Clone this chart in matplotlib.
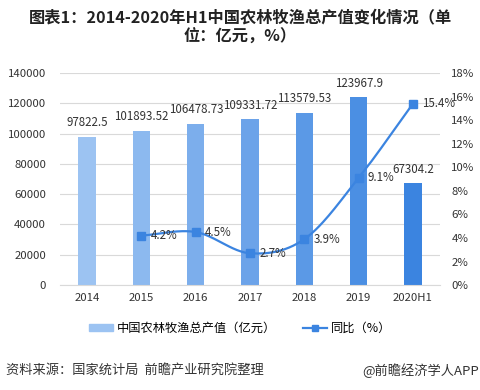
import numpy as np
import matplotlib
matplotlib.use('Agg')
import matplotlib.pyplot as plt
from matplotlib.colors import to_rgb

plt.rcParams['font.family'] = ['Noto Sans CJK SC', 'DejaVu Sans']

years = ['2014', '2015', '2016', '2017', '2018', '2019', '2020H1']
output_value = [97822.5, 101893.52, 106478.73, 109331.72, 113579.53, 123967.9, 67304.2]
value_labels = ['97822.5', '101893.52', '106478.73', '109331.72', '113579.53', '123967.9', '67304.2']
yoy_years = ['2015', '2016', '2017', '2018', '2019', '2020H1']
yoy = [4.2, 4.5, 2.7, 3.9, 9.1, 15.4]

def catmull_rom(x, y, n=30):
    # smooth curve through points, like Excel's smoothed line
    x = np.asarray(x, float); y = np.asarray(y, float)
    px = np.concatenate([[2*x[0]-x[1]], x, [2*x[-1]-x[-2]]])
    py = np.concatenate([[2*y[0]-y[1]], y, [2*y[-1]-y[-2]]])
    xs, ys = [], []
    for i in range(1, len(px)-2):
        t = np.linspace(0, 1, n)
        for p, out in ((px, xs), (py, ys)):
            p0, p1, p2, p3 = p[i-1], p[i], p[i+1], p[i+2]
            out.extend(0.5*((2*p1) + (-p0+p2)*t + (2*p0-5*p1+4*p2-p3)*t**2 + (-p0+3*p1-3*p2+p3)*t**3))
    return np.array(xs), np.array(ys)

fig = plt.figure(figsize=(4.8, 3.9), dpi=100)
ax = fig.add_axes([0.125, 0.269, 0.792, 0.544])
ax2 = ax.twinx()

light = np.array(to_rgb('#9cc3f2'))
dark = np.array(to_rgb('#3b84e0'))
x = np.arange(len(years))
colors = [tuple(light + (dark - light) * i / (len(years) - 1)) for i in range(len(years))]
bars = ax.bar(x, output_value, width=0.32, color=colors, zorder=2)
for xi, v, lab in zip(x, output_value, value_labels):
    ax.text(xi, v + 5000, lab, ha='center', va='bottom', fontsize=8.3, color='#333333')

ax.set_ylim(0, 140000)
ax.set_yticks(np.arange(0, 140001, 20000))
ax.set_xlim(-0.5, len(years) - 0.5)
ax.set_xticks(x)
ax.set_xticklabels(years)
ax.grid(axis='y', color='#d9d9d9', linewidth=0.8, zorder=0)
ax.set_axisbelow(True)

lx = [years.index(y) for y in yoy_years]
sx, sy = catmull_rom(lx, yoy)
ax2.plot(sx, sy, color='#3b84e0', linewidth=1.6, zorder=3)
ax2.plot(lx, yoy, 's', color='#3b84e0', markersize=6, zorder=4)
for xi, v in zip(lx, yoy):
    ax2.text(xi + 0.17, v, f'{v}%', ha='left', va='center', fontsize=8.3, color='#333333')
ax2.set_ylim(0, 18)
ax2.set_yticks(np.arange(0, 19, 2))
ax2.set_yticklabels([f'{t}%' for t in range(0, 19, 2)])

for a in (ax, ax2):
    for s in a.spines.values():
        s.set_visible(False)
    a.tick_params(length=0, labelsize=8.2, colors='#333333')
ax.spines['bottom'].set_visible(True)
ax.spines['bottom'].set_color('#d9d9d9')
ax.tick_params(axis='x', pad=6)
ax.tick_params(axis='y', pad=10)
ax2.tick_params(axis='y', pad=8)

fig.text(0.5, 0.975, '图表1：2014-2020年H1中国农林牧渔总产值变化情况（单\n位：亿元，%）',
         ha='center', va='top', fontsize=11.7, fontweight='bold', color='#222222', linespacing=1.2)

# legend
h1 = plt.Rectangle((0, 0), 1, 1, color='#9cc3f2')
h2, = ax2.plot([], [], '-s', color='#3b84e0', markersize=5, linewidth=1.6)
fig.legend([h1, h2], ['中国农林牧渔总产值（亿元）', '同比（%）'], loc='center',
           bbox_to_anchor=(0.5, 0.158), ncol=2, frameon=False, fontsize=8.8,
           handlelength=2.0, handleheight=0.6, columnspacing=2.2, handletextpad=0.3)

fig.text(0.012, 0.05, '资料来源：国家统计局  前瞻产业研究院整理', ha='left', va='center', fontsize=9.5, color='#333333')
fig.text(0.997, 0.05, '@前瞻经济学人APP', ha='right', va='center', fontsize=9.5, color='#333333')

fig.savefig('out.png', dpi=100)
